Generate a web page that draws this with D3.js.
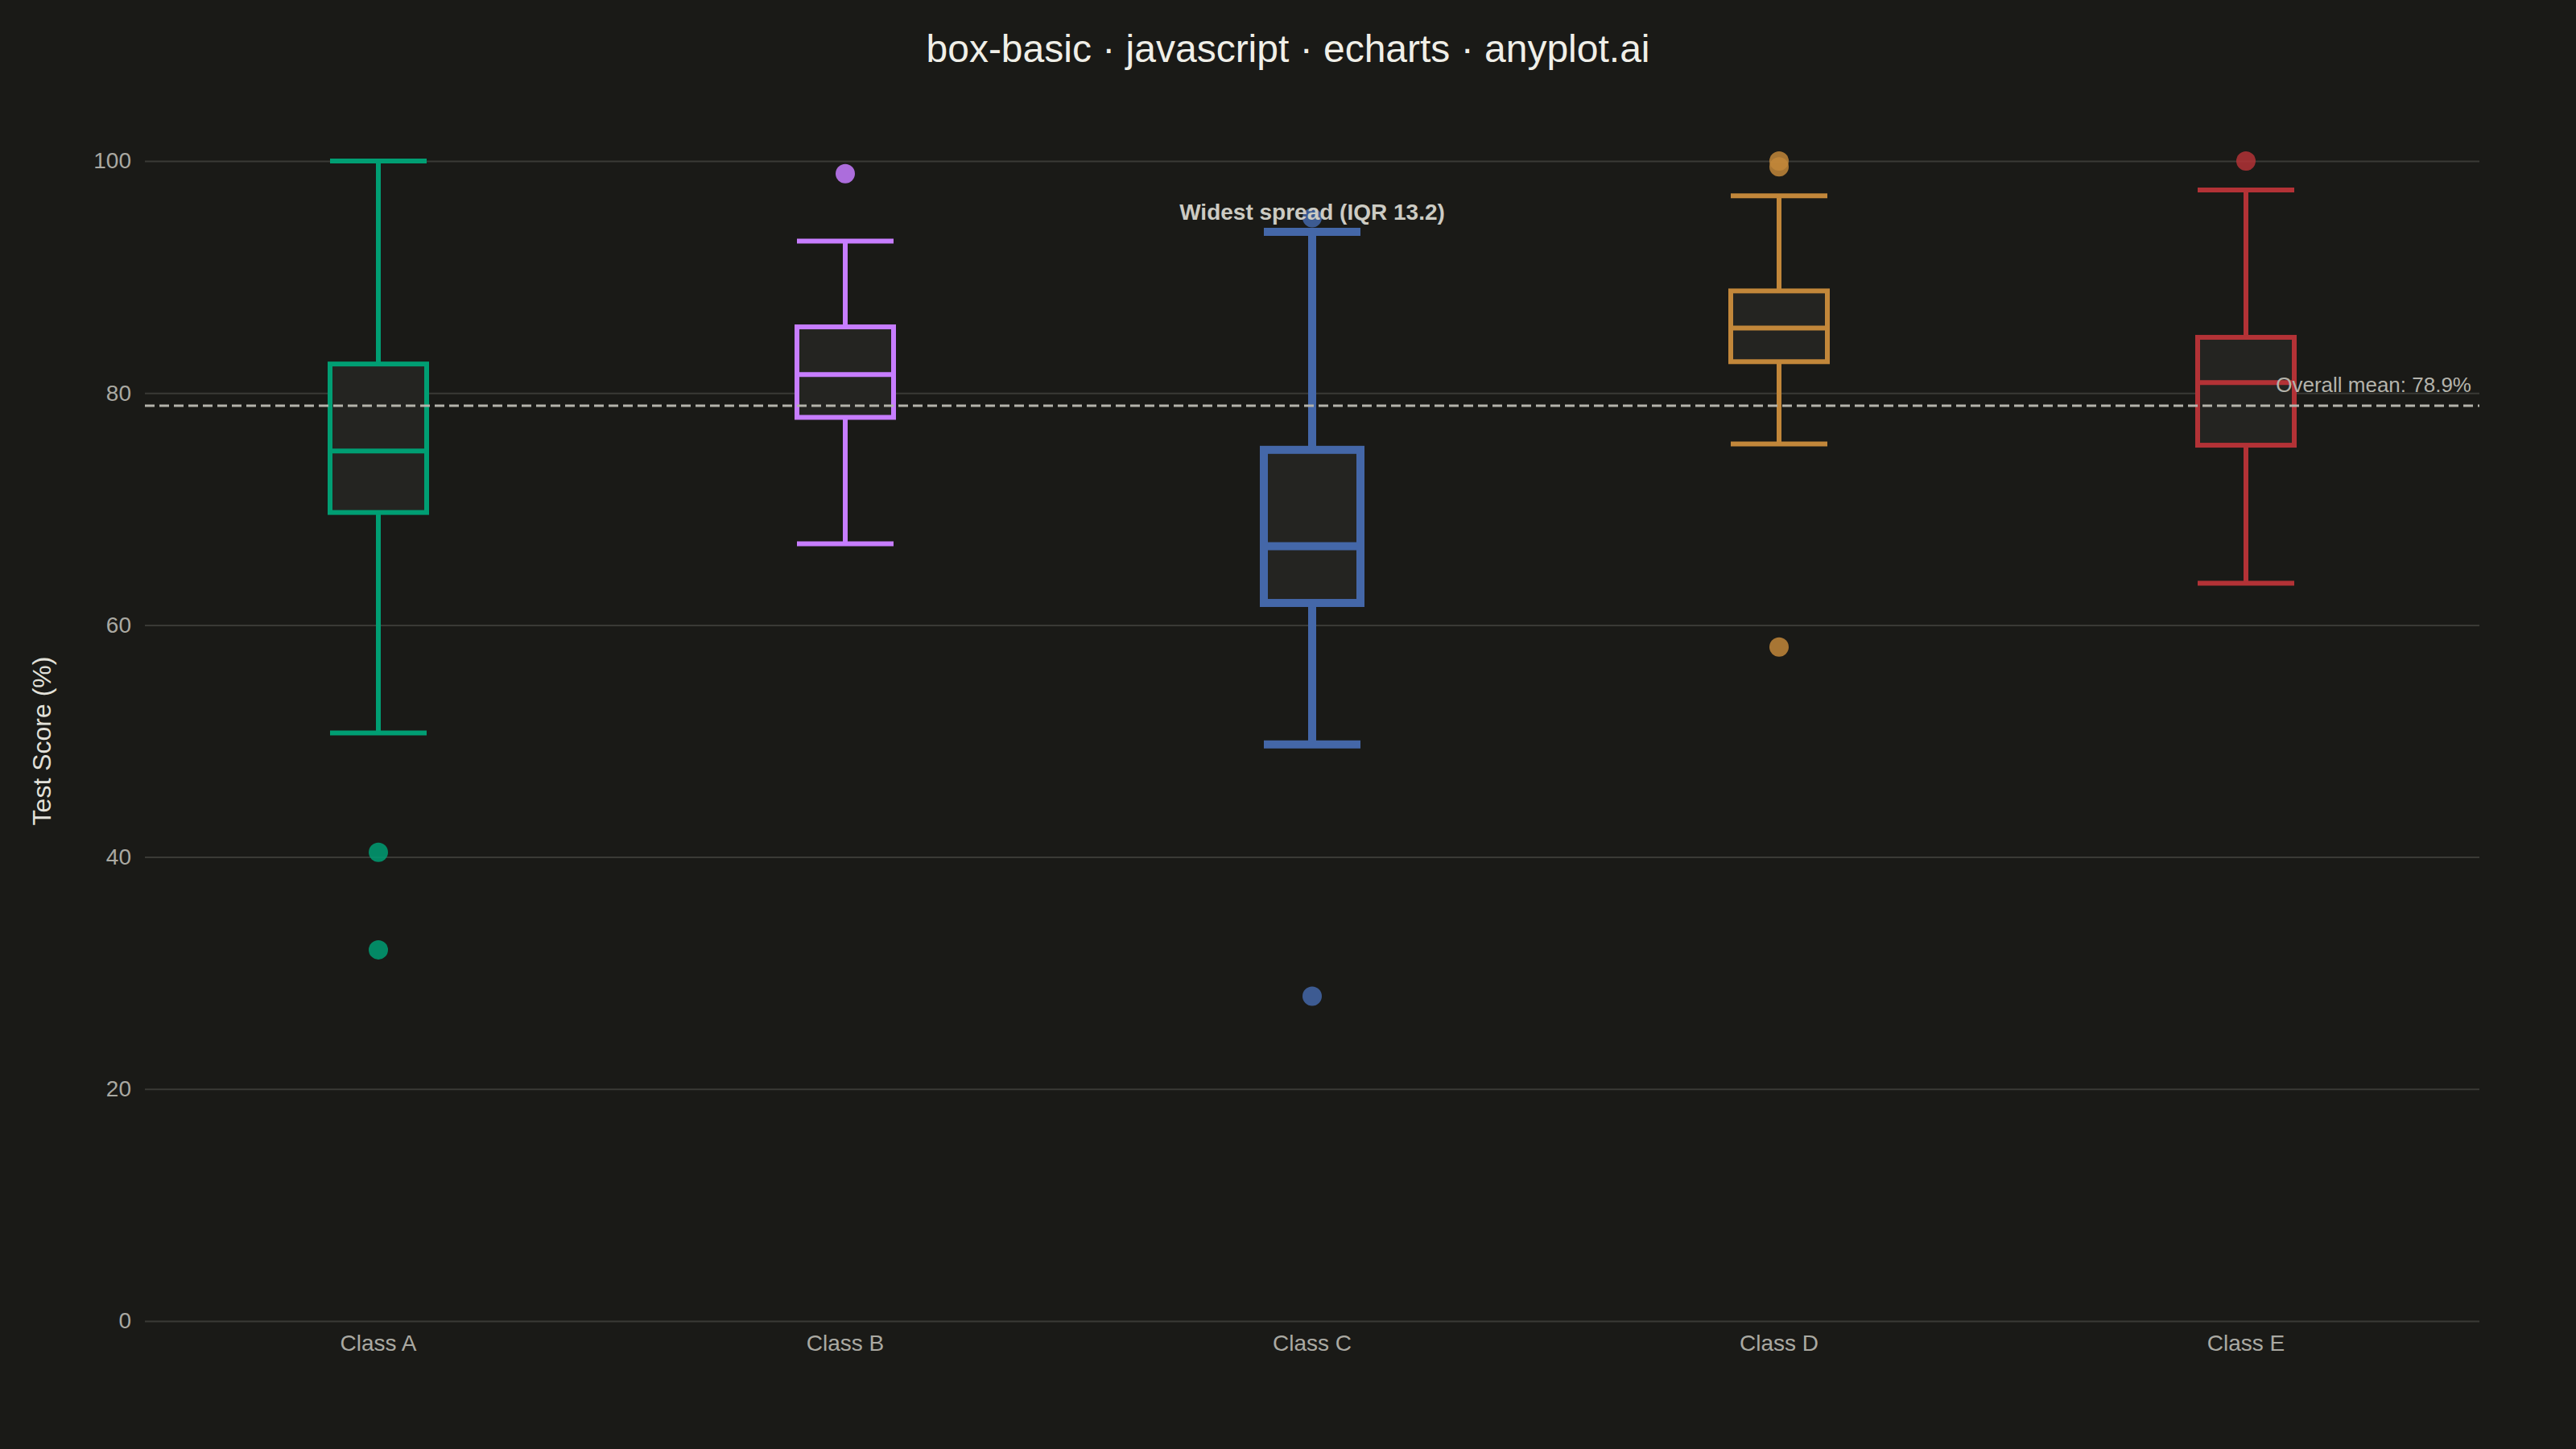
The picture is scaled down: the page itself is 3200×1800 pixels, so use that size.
<!DOCTYPE html>
<html>
<head>
<meta charset="utf-8">
<script src="https://cdn.jsdelivr.net/npm/d3@7"></script>
<style>
html, body { margin: 0; padding: 0; background: #1a1a17; }
svg { display: block; }
</style>
</head>
<body>
<div id="chart"></div>
<script>
// box stats
var categories  = ["Class A", "Class B", "Class C", "Class D", "Class E"];
var whiskerLow  = [50.7, 67.0, 49.7, 75.6, 63.6];
var q1          = [69.7, 77.9, 61.9, 82.7, 75.5];
var median      = [75.0, 81.6, 66.8, 85.6, 80.9];
var q3          = [82.5, 85.7, 75.1, 88.8, 84.8];
var whiskerHigh = [100.0, 93.1, 93.9, 97.0, 97.5];
var outliers    = [[40.4, 32.0], [98.9], [95.1, 28.0], [100.0, 99.5, 58.1], [100.0]];
var yTicks      = [0, 20, 40, 60, 80, 100];
var overallMean = 78.9;

var palette = ["#009E73", "#C77DFF", "#4467A8", "#C2873A", "#B33236"];

var W = 3200, H = 1800;
var margin = {top: 200, right: 120, bottom: 159, left: 180};
var font = "'Liberation Sans', Arial, Helvetica, sans-serif";

var svg = d3.select("#chart").append("svg")
	.attr("width", W).attr("height", H)
	.style("background", "#1a1a17")
	.style("font-family", font);

var x = d3.scaleBand().domain(categories)
	.range([margin.left, W - margin.right]).padding(0);
var y = d3.scaleLinear().domain([0, 100])
	.range([H - margin.bottom, margin.top]);

var boxW = 120;

// title
svg.append("text")
	.attr("x", W / 2).attr("y", 77)
	.attr("text-anchor", "middle")
	.attr("font-size", 48)
	.attr("fill", "#f0efe8")
	.text("box-basic · javascript · echarts · anyplot.ai");

// y axis + grid
var yAxis = svg.append("g")
	.attr("transform", "translate(" + margin.left + ",0)")
	.call(d3.axisLeft(y).tickValues(yTicks)
		.tickSize(-(W - margin.left - margin.right)).tickPadding(17));
yAxis.select(".domain").remove();
yAxis.selectAll(".tick line").attr("stroke", "#3a3a36").attr("stroke-width", 2);
yAxis.selectAll(".tick text")
	.attr("fill", "#aaa9a2").attr("font-size", 28).attr("font-family", font);

// x axis labels
var xAxis = svg.append("g")
	.attr("transform", "translate(0," + y(0) + ")")
	.call(d3.axisBottom(x).tickSize(0).tickPadding(17));
xAxis.select(".domain").remove();
xAxis.selectAll(".tick text")
	.attr("fill", "#aaa9a2").attr("font-size", 28).attr("font-family", font);

// y axis title
svg.append("text")
	.attr("transform", "translate(52," + ((y(0) + y(100)) / 2) + ") rotate(-90)")
	.attr("text-anchor", "middle")
	.attr("dominant-baseline", "central")
	.attr("font-size", 32)
	.attr("fill", "#e2e1da")
	.text("Test Score (%)");

// which class has the widest IQR
var iqr = categories.map(function(c, i) { return q3[i] - q1[i]; });
var widest = d3.maxIndex(iqr);

var boxes = svg.append("g");

categories.forEach(function(c, i) {
	var cx = x(c) + x.bandwidth() / 2;
	var col = palette[i];
	var sw = (i === widest) ? 10 : 6;
	var g = boxes.append("g").attr("stroke", col).attr("stroke-width", sw);

	// whiskers
	g.append("line").attr("x1", cx).attr("x2", cx)
		.attr("y1", y(q3[i])).attr("y2", y(whiskerHigh[i]));
	g.append("line").attr("x1", cx).attr("x2", cx)
		.attr("y1", y(q1[i])).attr("y2", y(whiskerLow[i]));
	// caps
	g.append("line").attr("x1", cx - boxW / 2).attr("x2", cx + boxW / 2)
		.attr("y1", y(whiskerHigh[i])).attr("y2", y(whiskerHigh[i]));
	g.append("line").attr("x1", cx - boxW / 2).attr("x2", cx + boxW / 2)
		.attr("y1", y(whiskerLow[i])).attr("y2", y(whiskerLow[i]));
	// box
	g.append("rect")
		.attr("x", cx - boxW / 2).attr("width", boxW)
		.attr("y", y(q3[i])).attr("height", y(q1[i]) - y(q3[i]))
		.attr("fill", "#242421");
	// median
	g.append("line").attr("x1", cx - boxW / 2).attr("x2", cx + boxW / 2)
		.attr("y1", y(median[i])).attr("y2", y(median[i]));

	// outliers
	boxes.selectAll(".out" + i).data(outliers[i]).enter().append("circle")
		.attr("class", "out" + i)
		.attr("cx", cx).attr("cy", function(d) { return y(d); })
		.attr("r", 12)
		.attr("fill", col).attr("fill-opacity", 0.85);
});

// overall mean line
svg.append("line")
	.attr("x1", margin.left).attr("x2", W - margin.right)
	.attr("y1", y(overallMean)).attr("y2", y(overallMean))
	.attr("stroke", "#b4b3ab").attr("stroke-width", 3)
	.attr("stroke-dasharray", "12,6");

svg.append("text")
	.attr("x", W - margin.right - 10).attr("y", y(overallMean) - 17)
	.attr("text-anchor", "end")
	.attr("font-size", 26)
	.attr("fill", "#b4b3ab")
	.text("Overall mean: " + overallMean.toFixed(1) + "%");

// annotation on the widest box
svg.append("text")
	.attr("x", x(categories[widest]) + x.bandwidth() / 2)
	.attr("y", y(whiskerHigh[widest]) - 15)
	.attr("text-anchor", "middle")
	.attr("font-size", 28)
	.attr("font-weight", "bold")
	.attr("fill", "#cccbc3")
	.text("Widest spread (IQR " + iqr[widest].toFixed(1) + ")");
</script>
</body>
</html>
